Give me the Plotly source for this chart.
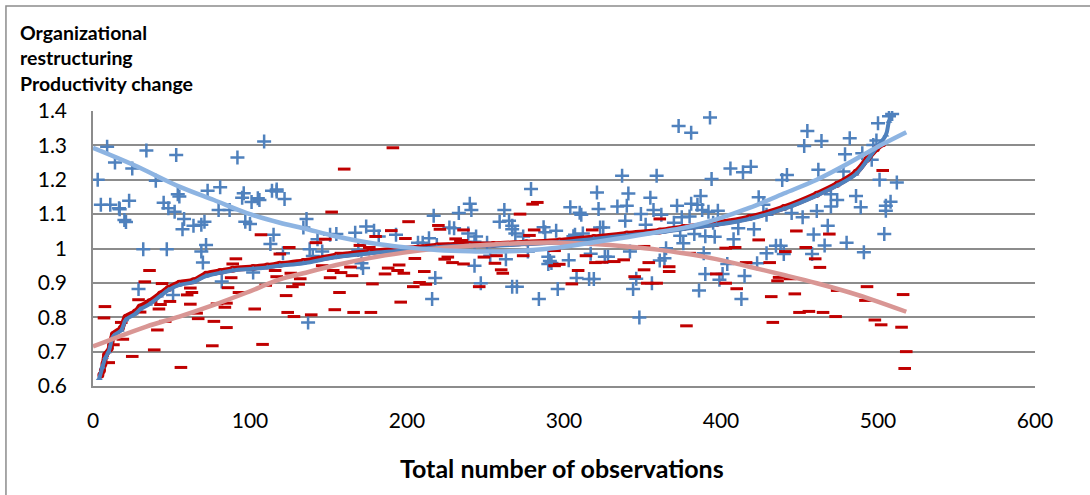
import plotly.graph_objects as go

# ---- raw observations: organizational restructuring (blue +) ----
blue_x = [3, 9, 14, 25, 34, 53, 40, 109, 92, 5, 11, 16.6, 17, 23, 20, 21, 45, 48, 52, 54, 55, 58, 57, 64, 69, 71, 73, 81, 80, 87,
          95, 96, 101, 105, 106, 114, 117, 97, 100, 115, 113, 72, 69, 70, 32, 47, 29, 82, 51, 102,
          117, 122, 136, 134, 121, 138, 143, 146, 140, 151, 155, 167, 174, 179, 182, 193, 169, 171, 172, 137, 207, 210, 214, 217,
          219, 218, 216, 227, 230, 233, 239, 240,
          241, 244, 243, 243, 247, 251, 253, 259, 262, 265, 267, 267, 269, 263, 267, 270, 274, 277, 279, 284, 287, 288, 295, 290,
          291, 290, 292, 296, 303, 304, 306, 307, 308, 310, 311, 312, 316, 319, 317, 321, 322, 323, 325, 326, 328, 334, 339, 340,
          341, 337, 342, 344, 346, 348, 349, 352, 355, 357, 356, 359, 361,
          373, 381, 393, 406, 414, 419, 394, 362, 372, 375, 380, 381, 385, 387, 388, 392, 398, 370, 374, 376, 383, 390, 396, 395,
          408, 411, 421, 424, 427, 429, 364, 365, 389, 390, 399, 401, 404, 386, 413, 415, 423, 429, 435, 438, 440, 439, 442, 445,
          452, 453, 455, 464, 461, 459, 458, 466, 468, 462, 470, 474, 470, 478, 479, 482, 480,
          507, 509, 500, 497, 499, 490, 501, 512, 486, 489, 505, 508, 505, 504, 491, 496]
blue_y = [1.20, 1.296, 1.25, 1.233, 1.285, 1.272, 1.197, 1.311, 1.265, 1.127, 1.127, 1.117, 1.114, 1.139, 1.083, 1.077, 1.133,
          1.117, 1.107, 1.158, 1.151, 1.086, 1.056, 1.066, 1.069, 1.078, 1.168, 1.178, 1.112, 1.112,
          1.148, 1.161, 1.135, 1.146, 1.141, 1.168, 1.172, 1.078, 1.071, 1.04, 1.013, 1.01, 0.991, 0.959, 0.998, 0.998, 0.882,
          0.904, 0.865, 0.93,
          1.166, 1.144, 1.086, 1.061, 0.986, 0.998, 1.027, 0.991, 0.978, 1.04, 1.042, 1.046, 1.064, 1.052, 1.035, 1.04, 0.996,
          0.957, 0.943, 0.785, 1.017, 1.017, 1.03, 1.095, 1.01, 0.914, 0.853, 1.061, 1.059, 1.103, 1.044, 1.13,
          1.112, 1.035, 1.02, 0.95, 0.899, 1.017, 0.979, 1.078, 1.112, 1.081, 1.066, 1.056, 1.044, 0.969, 0.889, 0.889, 1.035,
          0.991, 1.173, 0.853, 1.062, 1.047, 1.052, 0.976, 0.964, 0.955, 0.958, 0.882, 0.966, 1.12, 1.036, 1.04, 0.914, 1.104,
          1.098, 1.044, 0.911, 0.911, 0.985, 1.163, 1.115, 1.061, 1.061, 0.976, 0.976, 1.122, 1.081, 1.124, 1.16, 1.212, 0.991,
          0.882, 0.912, 0.799, 1.1, 1.069, 1.148, 1.112, 0.899, 1.212, 0.965,
          1.356, 1.337, 1.381, 1.233, 1.222, 1.238, 1.202, 1.098, 1.124, 1.091, 1.093, 1.13, 1.127, 1.153, 1.112, 1.107, 1.11,
          1.075, 1.037, 1.015, 1.042, 1.036, 1.034, 1.075, 1.027, 1.059, 1.056, 1.149, 1.127, 1.098, 0.972, 1.001, 0.986, 0.926,
          0.909, 0.926, 0.955, 0.878, 0.853, 0.92, 0.957, 0.986, 1.008, 1.008, 0.984, 1.199, 1.214, 1.103, 1.091, 1.298, 1.342,
          1.313, 1.109, 1.041, 0.984, 1.009, 1.066, 1.229, 1.122, 1.141, 1.158, 1.224, 1.274, 1.321, 1.017,
          1.385, 1.391, 1.364, 1.301, 1.314, 1.277, 1.2, 1.192, 1.153, 1.12, 1.124, 1.136, 1.11, 1.042, 0.989, 1.258]

# ---- raw observations: productivity change (red dashes) ----
red_x = [107, 91, 89, 36, 33, 44, 7.6, 7, 29, 37, 30, 43, 42, 49, 62, 63, 60, 62, 66, 67, 85, 84, 93, 86, 88, 79, 77, 85, 103,
         46, 41, 19, 18, 13, 39, 25, 10, 56, 76, 108, 117, 110,
         191, 160, 152, 125, 116, 119, 126, 132, 123, 127, 131, 124, 128, 139, 142, 148, 146, 151, 153, 158, 158, 164, 165, 157,
         154, 166, 177, 178, 170, 176, 180, 186, 190, 188, 194, 195, 198, 196, 201, 199, 205, 211, 208, 204, 212, 220, 221, 223,
         224, 226, 229, 231, 234, 236, 236,
         235, 246, 249, 257, 256, 260, 261, 272, 274, 278, 280, 283, 281, 294, 297, 294, 309, 305, 314, 318, 320, 324, 332, 338,
         345, 351, 351, 354, 353, 359, 361,
         367, 367, 380, 378, 397, 403, 403, 409, 410, 416, 424, 431, 432, 433, 437, 436, 441, 444, 447, 448, 450, 456, 454, 460,
         463, 465, 469, 473, 474,
         503, 493, 492, 516, 498, 502, 515, 518, 517]
red_y = [1.04, 0.97, 0.955, 0.936, 0.903, 0.898, 0.831, 0.798, 0.851, 0.846, 0.815, 0.837, 0.824, 0.846, 0.885, 0.872, 0.865,
         0.838, 0.812, 0.796, 0.841, 0.829, 0.872, 0.886, 0.915, 0.839, 0.788, 0.77, 0.824, 0.788, 0.763, 0.736, 0.785, 0.72,
         0.705, 0.686, 0.668, 0.654, 0.717, 0.721, 0.918, 0.893,
         1.293, 1.231, 1.106, 1.003, 0.936, 0.984, 0.928, 0.912, 0.863, 0.889, 0.896, 0.814, 0.802, 0.807, 1.017, 1.027, 0.95,
         0.915, 0.936, 0.93, 0.986, 0.946, 0.921, 0.872, 0.822, 0.814, 0.814, 0.897, 1.009, 1.003, 1.035, 0.926, 1.052, 0.943,
         0.936, 0.952, 0.928, 0.844, 1.078, 1.029, 0.971, 0.933, 0.901, 0.889, 0.896, 1.067, 1.056, 1.013, 0.969, 0.975, 0.959,
         1.028, 1.023, 0.955, 1.054,
         1.023, 0.889, 0.975, 0.979, 0.957, 0.938, 0.928, 1.1, 0.979, 1.038, 1.129, 1.134, 1.054, 0.95, 0.954, 0.994, 0.936,
         0.897, 0.979, 1.054, 0.959, 0.96, 0.962, 0.967, 0.918, 1.006, 0.938, 0.959, 0.899, 0.899, 1.086,
         0.947, 0.933, 0.986, 0.775, 0.926, 0.899, 1.001, 1.003, 0.883, 0.959, 1.025, 0.959, 0.86, 0.785, 0.916, 0.906, 0.991,
         0.912, 0.868, 1.051, 0.814, 0.817, 1.003, 0.97, 0.945, 0.814, 1.042, 0.802, 0.878,
         1.227, 0.889, 0.849, 0.866, 0.792, 0.778, 0.771, 0.7, 0.651]

# ---- sorted series ----
sorted_red_x = [5, 6, 7, 8, 11, 13, 18, 21, 27, 30, 36, 43, 48, 55, 64, 72, 81, 89, 102, 111, 119, 134, 155, 176, 198, 219,
                240, 255, 276, 297, 319, 340, 361, 376, 397, 418, 440, 461, 474, 486, 493, 499, 503]
sorted_red_y = [0.632, 0.645, 0.665, 0.69, 0.71, 0.75, 0.768, 0.8, 0.815, 0.83, 0.845, 0.868, 0.884, 0.899, 0.906, 0.925,
                0.933, 0.94, 0.945, 0.949, 0.954, 0.962, 0.979, 0.99, 0.998, 1.007, 1.012, 1.012, 1.017, 1.022, 1.032, 1.042,
                1.051, 1.061, 1.073, 1.09, 1.119, 1.158, 1.187, 1.222, 1.26, 1.29, 1.305]
sorted_blue_x = [4, 6, 8, 10, 13, 18, 21, 27, 30, 36, 43, 48, 55, 64, 72, 81, 89, 102, 111, 119, 134, 155, 176, 198, 219, 240,
                 255, 276, 297, 319, 340, 361, 376, 397, 418, 440, 461, 474, 486, 493, 499, 505, 507, 509]
sorted_blue_y = [0.622, 0.655, 0.683, 0.7, 0.745, 0.762, 0.793, 0.81, 0.823, 0.838, 0.862, 0.879, 0.894, 0.902, 0.92, 0.929,
                 0.936, 0.941, 0.945, 0.95, 0.957, 0.975, 0.986, 0.994, 1.004, 1.008, 1.008, 1.013, 1.018, 1.028, 1.038,
                 1.047, 1.057, 1.069, 1.086, 1.115, 1.154, 1.183, 1.217, 1.256, 1.294, 1.33, 1.37, 1.39]

# ---- trend lines ----
trend_blue_x = [0, 26, 55, 77, 98, 119, 134, 155, 176, 198, 219, 240, 255, 276, 297, 319, 340, 361, 376, 397, 418, 440, 461,
                482, 497, 518]
trend_blue_y = [1.293, 1.243, 1.18, 1.141, 1.103, 1.075, 1.059, 1.035, 1.017, 1.004, 0.996, 0.992, 0.991, 0.994, 1.003, 1.018,
                1.033, 1.049, 1.06, 1.085, 1.118, 1.16, 1.2, 1.25, 1.289, 1.338]
trend_red_x = [0, 34, 55, 77, 98, 119, 134, 155, 176, 198, 219, 240, 255, 276, 297, 319, 340, 361, 376, 397, 418, 440, 461,
               482, 497, 518]
trend_red_y = [0.715, 0.773, 0.802, 0.836, 0.872, 0.91, 0.928, 0.952, 0.972, 0.988, 1.0, 1.008, 1.012, 1.016, 1.017, 1.013,
               1.006, 0.996, 0.986, 0.969, 0.947, 0.923, 0.899, 0.872, 0.85, 0.816]

# ---- axes ----
x_tick_vals = [0, 100, 200, 300, 400, 500, 600]
x_tick_labels = ["0", "100", "200", "300", "400", "500", "600"]
y_tick_vals = [0.6, 0.7, 0.8, 0.9, 1.0, 1.1, 1.2, 1.3, 1.4]
y_tick_labels = ["0.6", "0.7", "0.8", "0.9", "1", "1.1", "1.2", "1.3", "1.4"]

BLUE = "#4F81BD"
RED = "#C00000"
GRID = "#8C8C8C"
FONT = "Lato"

fig = go.Figure()
fig.add_trace(go.Scatter(x=blue_x, y=blue_y, mode="markers",
                         marker=dict(symbol="cross-thin", size=10, line=dict(width=2.5, color=BLUE), color=BLUE)))
fig.add_trace(go.Scatter(x=red_x, y=red_y, mode="markers",
                         marker=dict(symbol="line-ew", size=9, line=dict(width=3, color=RED), color=RED)))
fig.add_trace(go.Scatter(x=sorted_red_x, y=sorted_red_y, mode="lines+markers",
                         line=dict(color=RED, width=6, shape="spline"),
                         marker=dict(symbol="circle", size=7, color=RED)))
fig.add_trace(go.Scatter(x=sorted_blue_x, y=sorted_blue_y, mode="lines+markers",
                         line=dict(color=BLUE, width=4, shape="spline"),
                         marker=dict(symbol="triangle-up", size=6, color=BLUE)))
fig.add_trace(go.Scatter(x=trend_red_x, y=trend_red_y, mode="lines",
                         line=dict(color="#D99694", width=4.5, shape="spline")))
fig.add_trace(go.Scatter(x=trend_blue_x, y=trend_blue_y, mode="lines",
                         line=dict(color="#8DB4E2", width=4.5, shape="spline")))

fig.update_layout(
    width=1090, height=495,
    margin=dict(l=93, r=55, t=111, b=109),
    paper_bgcolor="white", plot_bgcolor="white",
    showlegend=False,
    font=dict(family=FONT, color="black"),
    xaxis=dict(range=[0, 600], tickvals=x_tick_vals, ticktext=x_tick_labels, showgrid=False, zeroline=False,
               showline=True, linecolor=GRID, linewidth=1.5, ticks="", tickfont=dict(size=21, family=FONT),
               ticklabelstandoff=15),
    yaxis=dict(range=[0.6, 1.4], tickvals=y_tick_vals, ticktext=y_tick_labels, showgrid=True, gridcolor=GRID,
               gridwidth=1.5, zeroline=False, showline=True, linecolor=GRID, linewidth=1.5, ticks="",
               tickfont=dict(size=21, family=FONT), ticklabelstandoff=20),
    annotations=[
        dict(text="<b>Organizational<br>restructuring<br>Productivity change</b>", xref="paper", yref="paper",
             x=-0.0796, y=1.335, xanchor="left", yanchor="top", align="left", showarrow=False,
             font=dict(size=19.5, family=FONT, color="black")),
        dict(text="<b>Total number of observations</b>", xref="paper", yref="paper", x=0.498, y=-0.298,
             xanchor="center", yanchor="middle", showarrow=False, font=dict(size=25, family=FONT, color="black")),
    ],
    shapes=[dict(type="rect", xref="paper", yref="paper", x0=-0.0924, y0=-0.44, x1=1.07, y1=1.382,
                 line=dict(color="#8C8C8C", width=1.5))],
)

fig.write_html("out.html")
